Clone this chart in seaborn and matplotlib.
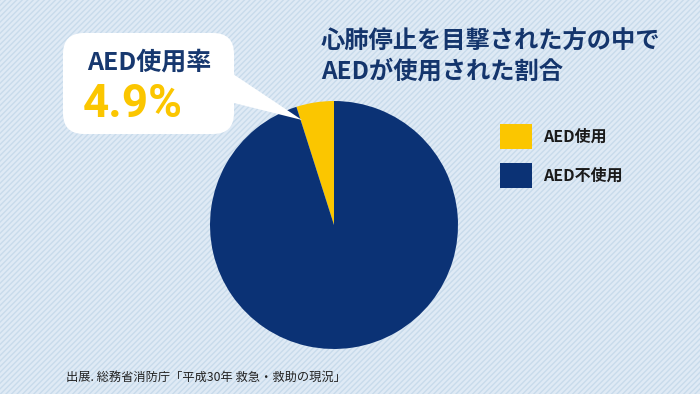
import matplotlib
matplotlib.use("Agg")
import matplotlib.pyplot as plt
import seaborn as sns
from matplotlib.patches import Rectangle, FancyBboxPatch, Polygon

sns.set_style("white")
plt.rcParams['font.family'] = ['Noto Sans CJK JP', 'DejaVu Sans']
plt.rcParams['hatch.linewidth'] = 1.0

# data
labels = ["AED使用", "AED不使用"]
shares = [4.9, 95.1]
colors = ["#fbc600", "#0b3275"]
title_lines = ["心肺停止を目撃された方の中で", "AEDが使用された割合"]
callout_label = "AED使用率"
callout_value = "4.9%"
source = "出展. 総務省消防庁「平成30年 救急・救助の現況」"

W, H = 700, 394
fig = plt.figure(figsize=(W / 100, H / 100), dpi=100)


def fx(x):
    return x / W


def fy(y):
    return 1 - y / H


# striped background
fig.patches.append(Rectangle((0, 0), 1, 1, transform=fig.transFigure,
                             facecolor="#dfeaf5", edgecolor="#c8dbeb",
                             hatch="//////", lw=0, zorder=-5))

# pie: centre (334, 225) px, radius 124 px -> axes 310 px square
ax = fig.add_axes([fx(179), fy(380), fx(310), 310 / H])
ax.pie(shares, colors=colors, startangle=90, counterclock=True,
       wedgeprops=dict(linewidth=0))
ax.set_aspect("equal")
ax.set_zorder(1)

# callout box with pointer
fig.patches.append(FancyBboxPatch((fx(63), fy(134)), fx(234 - 63), (134 - 33) / H,
                                  boxstyle="round,pad=0,rounding_size=0.03",
                                  transform=fig.transFigure, facecolor="white",
                                  edgecolor="none", zorder=2,
                                  mutation_aspect=W / H))
fig.patches.append(Polygon([(fx(230), fy(72)), (fx(302), fy(120)), (fx(230), fy(102))],
                           closed=True, transform=fig.transFigure,
                           facecolor="white", edgecolor="none", zorder=2))
fig.text(fx(87), fy(63), callout_label, fontsize=18, fontweight="bold",
         color="#17386f", va="center", ha="left", zorder=3)
fig.text(fx(83), fy(104), callout_value, fontsize=33, fontweight="bold",
         color="#fbc600", va="center", ha="left", zorder=3,
         family=["Roboto", "DejaVu Sans"])

# title
fig.text(fx(321), fy(42), title_lines[0], fontsize=17.5, fontweight="bold",
         color="#14356c", va="center", ha="left")
fig.text(fx(321), fy(72), title_lines[1], fontsize=17.5, fontweight="bold",
         color="#14356c", va="center", ha="left")

# legend
for i, (lab, col) in enumerate(zip(labels, colors)):
    y0 = 124 + i * 39
    fig.patches.append(Rectangle((fx(500), fy(y0 + 25)), fx(32), 25 / H,
                                 transform=fig.transFigure, facecolor=col,
                                 edgecolor="none", zorder=2))
    fig.text(fx(543), fy(y0 + 12.5), lab, fontsize=11.5, fontweight="bold",
             color="#1a1a1a", va="center", ha="left")

# source
fig.text(fx(66), fy(377), source, fontsize=8.8, color="#222222",
         va="center", ha="left")

fig.savefig("out.png", dpi=100)
